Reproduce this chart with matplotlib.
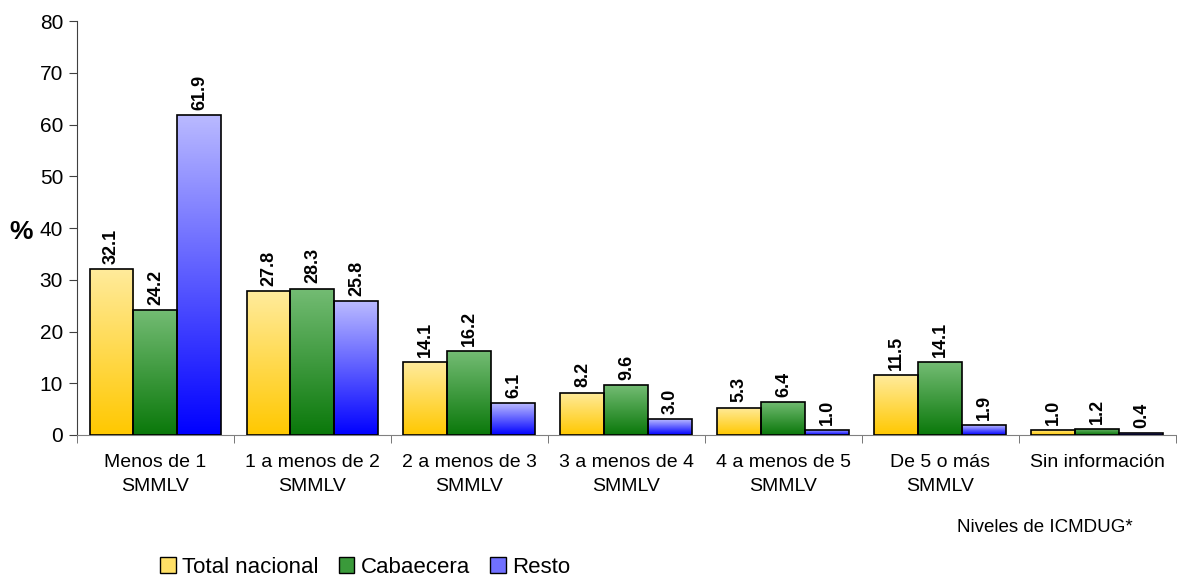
import matplotlib
matplotlib.use("Agg")
import matplotlib.pyplot as plt
import numpy as np
from matplotlib.colors import LinearSegmentedColormap
from matplotlib.patches import Patch

plt.rcParams['font.family'] = ['Liberation Sans', 'DejaVu Sans']

categories = ["Menos de 1\nSMMLV", "1 a menos de 2\nSMMLV", "2 a menos de 3\nSMMLV",
              "3 a menos de 4\nSMMLV", "4 a menos de 5\nSMMLV", "De 5 o más\nSMMLV",
              "Sin información"]
total_nacional = [32.1, 27.8, 14.1, 8.2, 5.3, 11.5, 1.0]
cabaecera = [24.2, 28.3, 16.2, 9.6, 6.4, 14.1, 1.2]
resto = [61.9, 25.8, 6.1, 3.0, 1.0, 1.9, 0.4]
series_names = ["Total nacional", "Cabaecera", "Resto"]

# gradient (top colour, bottom colour) for each series
gradients = [("#FFEB9C", "#FFC800"), ("#74BC74", "#0A780A"), ("#BABAFF", "#0000FF")]
legend_colors = ["#FFE066", "#3A9A3A", "#7070FF"]

fig = plt.figure(figsize=(11.77, 5.76), dpi=100)
ax = fig.add_axes([0.0654, 0.2448, 0.9336, 0.7187])

x = np.arange(len(categories))
width = 0.28
series = [total_nacional, cabaecera, resto]

for i, vals in enumerate(series):
    cmap = LinearSegmentedColormap.from_list("g%d" % i, [gradients[i][1], gradients[i][0]])
    offs = (i - 1) * width
    bars = ax.bar(x + offs, vals, width, facecolor="none", edgecolor="black", linewidth=1.2, zorder=3)
    for b, v in zip(bars, vals):
        x0, y0 = b.get_x(), b.get_y()
        w, h = b.get_width(), b.get_height()
        grad = np.linspace(0, 1, 256).reshape(-1, 1)
        im = ax.imshow(grad, cmap=cmap, origin="lower", aspect="auto",
                       extent=[x0, x0 + w, y0, y0 + h], zorder=2)
        im.set_clip_path(b)
        ax.text(x0 + w / 2, v + 1.0, "%.1f" % v, rotation=90, ha="center", va="bottom",
                fontsize=13, fontweight="bold", zorder=4)

ax.set_xlim(-0.5, len(categories) - 0.5)
ax.set_ylim(0, 80)
ax.set_yticks(range(0, 81, 10))
ax.tick_params(axis="y", labelsize=15, length=6, direction="out", color="#404040", pad=4)
ax.set_xticks(x)
ax.set_xticklabels(categories, fontsize=14, linespacing=1.5)
ax.tick_params(axis="x", length=0, pad=14)
ax.set_xticks(np.arange(-0.5, len(categories), 1.0), minor=True)
ax.tick_params(axis="x", which="minor", length=6, direction="out", color="#606060")

for s in ["top", "right"]:
    ax.spines[s].set_visible(False)
ax.spines["left"].set_color("#404040")
ax.spines["bottom"].set_color("#808080")

fig.text(0.008, 0.597, "%", fontsize=19, fontweight="bold", va="center")
fig.text(0.888, 0.085, "Niveles de ICMDUG*", fontsize=13.5, ha="center", va="center")

handles = [Patch(facecolor=c, edgecolor="black") for c in legend_colors]
fig.legend(handles, series_names, loc="center left", bbox_to_anchor=(0.136, 0.015),
           ncol=3, frameon=False, fontsize=16, handlelength=0.7, handleheight=0.7,
           handletextpad=0.3, columnspacing=0.9, borderaxespad=0, borderpad=0)

fig.savefig("out.png", dpi=100)
